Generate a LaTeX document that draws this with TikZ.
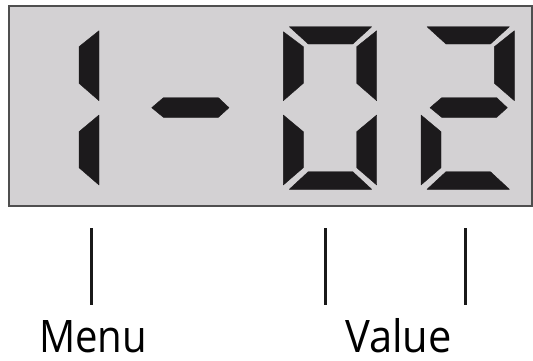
\documentclass[tikz,border=0pt]{standalone}
\usepackage{fontspec}
\setmainfont{Open Sans}
\definecolor{panelbg}{HTML}{D3D1D3}
\definecolor{panelborder}{HTML}{4F4F4F}
\definecolor{segcol}{HTML}{1C1A1C}
\tikzset{
  seg/.style={fill=segcol, draw=segcol, line width=0.4pt, line join=round},
  tick/.style={draw=black!90, line width=3pt},
  lbl/.style={font=\fontsize{44.8}{50}\selectfont, inner sep=0pt, text depth=0pt, anchor=base}
}
\newcommand\dsegA{\path[seg] (6,26.7)--(88.4,26.7)--(69.4,44)--(25,44)--cycle;}
\newcommand\dsegF{\path[seg] (0,31.7)--(20,46.7)--(20,83.3)--(0,100.7)--cycle;}
\newcommand\dsegB{\path[seg] (73.4,46.7)--(93.4,30.7)--(93.4,100.7)--(73.4,83.3)--cycle;}
\newcommand\dsegG{\path[seg] (9,107.7)--(20.7,97.7)--(75.7,97.7)--(86.3,107.7)--(75.7,117.3)--(20.7,117.3)--cycle;}
\newcommand\dsegE{\path[seg] (0,115)--(20,131.7)--(20,167.7)--(0,185)--cycle;}
\newcommand\dsegC{\path[seg] (73.4,131.7)--(93.4,115)--(93.4,185)--(73.4,167.7)--cycle;}
\newcommand\dsegD{\path[seg] (25,171.7)--(69.4,171.7)--(88.4,189.3)--(6,189.3)--cycle;}
\begin{document}
\begin{tikzpicture}[x=1pt,y=-1pt]
\useasboundingbox (0,0) rectangle (533,360);
\fill[white] (0,0) rectangle (533,360);
% display panel
\draw[fill=panelbg, draw=panelborder, line width=2pt] (9,5.5) rectangle (532,206);
% digit "1"
\begin{scope}[shift={(5.6,0)}]
  \dsegB \dsegC
\end{scope}
% dash
\begin{scope}[shift={(142.7,0)}]
  \dsegG
\end{scope}
% digit "0"
\begin{scope}[shift={(283.3,0)}]
  \dsegA \dsegB \dsegC \dsegD \dsegE \dsegF
\end{scope}
% digit "2"
\begin{scope}[shift={(421,0)}]
  \dsegA \dsegB \dsegG \dsegE \dsegD
\end{scope}
% labels
\node[lbl] (menu) at (93,352) {\scalebox{0.895}[1]{Menu}};
\node[lbl] (value) at (398.5,352) {\scalebox{0.93}[1]{Value}};
% ticks
\coordinate (t1a) at (91,228); \coordinate (t1b) at (91,305);
\coordinate (t2a) at (325.3,228); \coordinate (t2b) at (325.3,305);
\coordinate (t3a) at (465.3,228); \coordinate (t3b) at (465.3,305);
\draw[tick] (t1a) -- (t1b);
\draw[tick] (t2a) -- (t2b);
\draw[tick] (t3a) -- (t3b);
\end{tikzpicture}
\end{document}
